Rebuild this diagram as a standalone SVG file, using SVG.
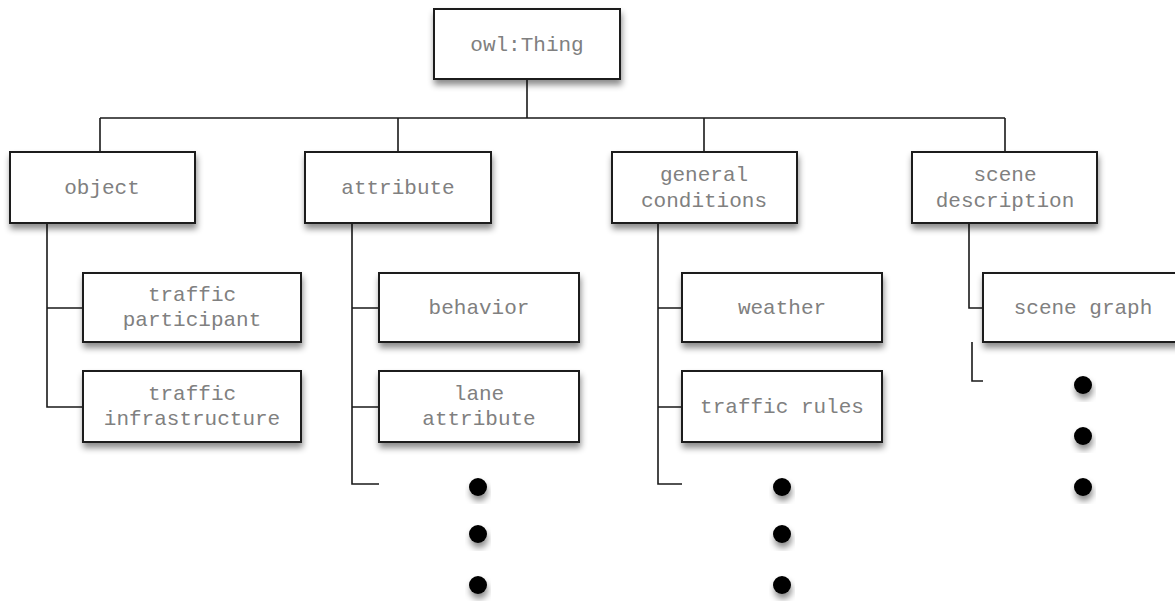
<svg xmlns="http://www.w3.org/2000/svg" width="1175" height="601" viewBox="0 0 1175 601">
<defs>
<filter id="sh" x="-20%" y="-20%" width="140%" height="160%">
<feDropShadow dx="1" dy="5" stdDeviation="3" flood-color="#000" flood-opacity="0.45"/>
</filter>
<style>
.box{fill:#fff;stroke:#1a1a1a;stroke-width:2;filter:url(#sh)}
.t{font-family:"Liberation Mono","Courier New",monospace;font-size:21px;fill:#808080;text-anchor:middle}
.c{fill:none;stroke:#1a1a1a;stroke-width:1.6}
.dot{fill:#000;filter:url(#sh)}
</style>
</defs>
<rect width="1175" height="601" fill="#fff"/>
<g id="connectors">
<path class="c" d="M527 79V118M100 118H1005M100 118V152M398 118V152M704 118V152M1005 118V152"/>
<path class="c" d="M47 223V407H83M47 308H83"/>
<path class="c" d="M352 223V484H379M352 308H379M352 407H379"/>
<path class="c" d="M658 223V484H682M658 308H682M658 407H682"/>
<path class="c" d="M969 223V308H983M972 342V381H983"/>
</g>
<g id="owl-thing"><rect class="box" x="434" y="9" width="186" height="70"/><text class="t" x="527" y="51">owl:Thing</text></g>
<g id="object"><rect class="box" x="10" y="152" width="185" height="71"/><text class="t" x="102" y="194">object</text></g>
<g id="attribute"><rect class="box" x="305" y="152" width="186" height="71"/><text class="t" x="398" y="194">attribute</text></g>
<g id="general-conditions"><rect class="box" x="612" y="152" width="185" height="71"/><text class="t" x="704" y="181">general</text><text class="t" x="704" y="207">conditions</text></g>
<g id="scene-description"><rect class="box" x="912" y="152" width="185" height="71"/><text class="t" x="1005" y="181">scene</text><text class="t" x="1005" y="207">description</text></g>
<g id="traffic-participant"><rect class="box" x="83" y="273" width="218" height="69"/><text class="t" x="192" y="301">traffic</text><text class="t" x="192" y="326">participant</text></g>
<g id="traffic-infrastructure"><rect class="box" x="83" y="371" width="218" height="71"/><text class="t" x="192" y="400">traffic</text><text class="t" x="192" y="425">infrastructure</text></g>
<g id="behavior"><rect class="box" x="379" y="273" width="200" height="69"/><text class="t" x="479" y="314">behavior</text></g>
<g id="lane-attribute"><rect class="box" x="379" y="371" width="200" height="71"/><text class="t" x="479" y="400">lane</text><text class="t" x="479" y="425">attribute</text></g>
<g id="weather"><rect class="box" x="682" y="273" width="200" height="69"/><text class="t" x="782" y="314">weather</text></g>
<g id="traffic-rules"><rect class="box" x="682" y="371" width="200" height="71"/><text class="t" x="782" y="413">traffic rules</text></g>
<g id="scene-graph"><rect class="box" x="983" y="273" width="200" height="69"/><text class="t" x="1083" y="314">scene graph</text></g>
<g id="dots">
<circle class="dot" cx="478" cy="487" r="9"/><circle class="dot" cx="478" cy="534" r="9"/><circle class="dot" cx="478" cy="585" r="9"/>
<circle class="dot" cx="782" cy="487" r="9"/><circle class="dot" cx="782" cy="534" r="9"/><circle class="dot" cx="782" cy="585" r="9"/>
<circle class="dot" cx="1083" cy="385" r="9"/><circle class="dot" cx="1083" cy="436" r="9"/><circle class="dot" cx="1083" cy="487" r="9"/>
</g>
</svg>
